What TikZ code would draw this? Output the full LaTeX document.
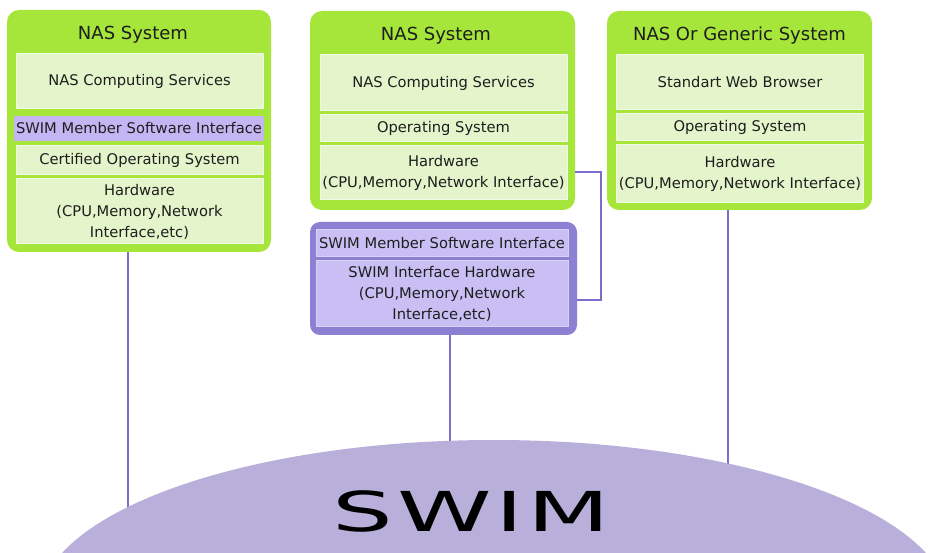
\documentclass[tikz,border=0pt]{standalone}
\usepackage{fontspec}
\usepackage{graphicx}
\setmainfont{DejaVu Sans}
\usetikzlibrary{shapes.geometric}
\pgfdeclarelayer{background}
\pgfsetlayers{background,main}
\definecolor{outgreen}{HTML}{A6E53A}
\definecolor{ingreen}{HTML}{E4F4CB}
\definecolor{inborder}{HTML}{F1FAE3}
\definecolor{outpurple}{HTML}{8C80D3}
\definecolor{inpurple}{HTML}{C9BFF4}
\definecolor{bandpurple}{HTML}{C3B6F2}
\definecolor{ellcol}{HTML}{B8AFDA}
\definecolor{linecol}{HTML}{7B6DCB}
\definecolor{txt}{HTML}{1E1E1E}
\tikzset{
  outerbox/.style={fill=outgreen, draw=none, rounded corners=12pt, inner sep=0pt},
  purplebox/.style={fill=outpurple, draw=none, rounded corners=10pt, inner sep=0pt},
  layer/.style={fill=ingreen, draw=inborder, line width=1pt, inner sep=0pt, align=center,
    text=txt, font=\fontsize{14.7}{21}\selectfont},
  player/.style={layer, fill=inpurple, draw=inpurple!70!white},
  band/.style={layer, fill=bandpurple, draw=none},
  title/.style={text=txt, font=\fontsize{18}{20}\selectfont, inner sep=0pt},
  conn/.style={draw=linecol, line width=1.4pt}
}
\begin{document}
\begin{tikzpicture}[x=1pt,y=-1pt]
\useasboundingbox (0,0) rectangle (930,553);
% Box 1
\node[outerbox, minimum width=264pt, minimum height=242pt] (b1) at (139,131) {};
\node[title] (b1t) at (133,35) {NAS System};
\node[layer, minimum width=247pt, minimum height=55pt] (b1nas) at (139.5,81.5) {NAS Computing Services};
\node[band, minimum width=250pt, minimum height=25pt] (b1swim) at (139,128.5) {SWIM Member Software Interface};
\node[layer, minimum width=247pt, minimum height=29pt] (b1cos) at (139.5,160.5) {Certified Operating System};
\node[layer, minimum width=247pt, minimum height=65pt] (b1hw) at (139.5,211.5) {Hardware\\(CPU,Memory,Network\\Interface,etc)};
% Box 2
\node[outerbox, minimum width=265pt, minimum height=199pt] (b2) at (442.5,110.5) {};
\node[title] (b2t) at (436,36) {NAS System};
\node[layer, minimum width=247pt, minimum height=56pt] (b2nas) at (443.5,83) {NAS Computing Services};
\node[layer, minimum width=247pt, minimum height=27pt] (b2os) at (443.5,128.5) {Operating System};
\node[layer, minimum width=247pt, minimum height=54pt] (b2hw) at (443.5,173) {Hardware\\(CPU,Memory,Network Interface)};
% Box 3
\node[outerbox, minimum width=265pt, minimum height=199pt] (b3) at (739.5,110.5) {};
\node[title] (b3t) at (739.5,36) {NAS Or Generic System};
\node[layer, minimum width=247pt, minimum height=55pt] (b3web) at (740,82.5) {Standart Web Browser};
\node[layer, minimum width=247pt, minimum height=27pt] (b3os) at (740,127.5) {Operating System};
\node[layer, minimum width=247pt, minimum height=58pt] (b3hw) at (740,174) {Hardware\\(CPU,Memory,Network Interface)};
% Purple box
\node[purplebox, minimum width=267pt, minimum height=113pt] (pb) at (443.5,278.5) {};
\node[player, minimum width=252pt, minimum height=27pt] (psms) at (442,243.5) {SWIM Member Software Interface};
\node[player, minimum width=252pt, minimum height=66pt] (psih) at (442,294) {SWIM Interface Hardware\\(CPU,Memory,Network\\Interface,etc)};
% SWIM ellipse
\node[ellipse, fill=ellcol, draw=none, minimum width=910pt, minimum height=330pt, inner sep=0pt] (swim) at (494,605) {};
\node[inner sep=0pt, text=black] (swimtxt) at (471.5,511) {\fontsize{55}{60}\selectfont\scalebox{1.74}[1]{\addfontfeature{LetterSpace=4}SWIM}};
% connectors
\coordinate (e1) at (128,520);
\coordinate (e2) at (450,500);
\coordinate (e3) at (728,500);
\coordinate (c1) at (601,172);
\coordinate (c2) at (601,300);
\begin{pgfonlayer}{background}
\draw[conn] (e1 |- b1.south) -- (e1);
\draw[conn] (e2 |- pb.south) -- (e2);
\draw[conn] (e3 |- b3.south) -- (e3);
\end{pgfonlayer}
\draw[conn] (b2.east |- c1) -- (c1) -- (c2) -- (pb.east |- c2);
\end{tikzpicture}
\end{document}
